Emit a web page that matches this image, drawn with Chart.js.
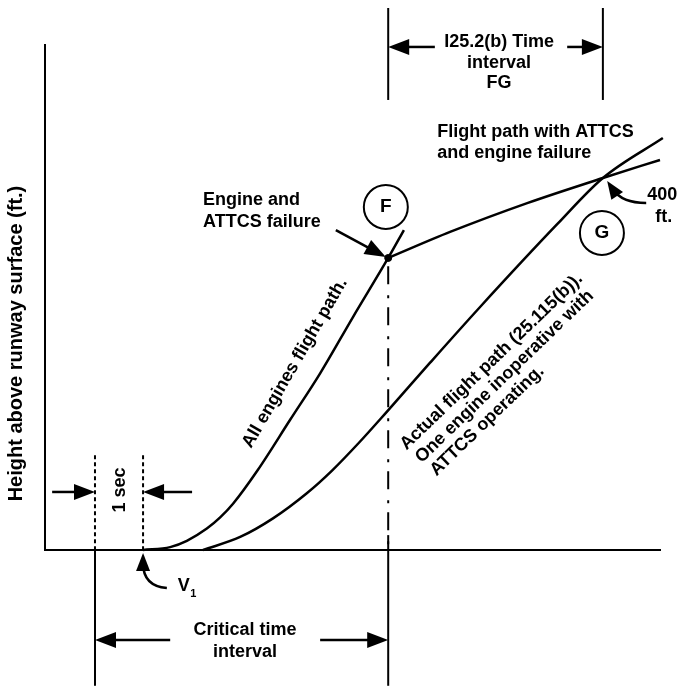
<!DOCTYPE html>
<html>
<head>
<meta charset="utf-8">
<script src="https://cdn.jsdelivr.net/npm/chart.js@4.4.1/dist/chart.umd.min.js"></script>
<style>
  html, body { margin: 0; padding: 0; background: #fff; }
  canvas { display: block; }
</style>
</head>
<body>
<canvas id="chart" width="677" height="687"></canvas>
<script>
// x = time (s), y = height above runway (ft)
const allEnginesTime   = [2.06, 2.63, 2.98, 3.40, 3.68, 3.95, 4.47, 5.15, 5.78, 6.47, 7.21, 7.54];
const allEnginesHeight = [0, 3.1, 9.8, 23, 35, 49.7, 86, 140, 190, 250.5, 314, 344];

const actualPathTime   = [3.32, 4.10, 4.79, 5.50, 6.03, 6.60, 7.18, 8.09, 9.14, 10.76, 11.72, 12.98];
const actualPathHeight = [0, 14, 34, 61, 85.4, 115.6, 148.6, 201.4, 261.3, 350.3, 400, 443];

const failurePathTime   = [7.21, 8.51, 10.13, 11.72, 12.92];
const failurePathHeight = [314, 342, 373, 400, 419.4];

// marked instants: start of 1 sec, V1, F, G
const markTimes   = [1.05, 2.06, 7.21, 11.72];
const markLabels  = ['', 'V1', 'F', 'G'];
const failureHeight = 314;
const gHeight = 400;

const timeMax = 12.92;
const heightMax = 543;

const toPoints = (xs, ys) => xs.map((x, i) => ({ x: x, y: ys[i] }));

const FONT = '"Liberation Sans", Arial, Helvetica, sans-serif';

function arrow(ctx, x1, y1, x2, y2) {
  const a = Math.atan2(y2 - y1, x2 - x1);
  const hl = 21, hw = 8;
  ctx.beginPath();
  ctx.moveTo(x1, y1);
  ctx.lineTo(x2 - hl * 0.8 * Math.cos(a), y2 - hl * 0.8 * Math.sin(a));
  ctx.stroke();
  head(ctx, x2, y2, a, hl, hw);
}

function head(ctx, x, y, a, hl, hw) {
  ctx.beginPath();
  ctx.moveTo(x, y);
  ctx.lineTo(x - hl * Math.cos(a) + hw * Math.sin(a), y - hl * Math.sin(a) - hw * Math.cos(a));
  ctx.lineTo(x - hl * Math.cos(a) - hw * Math.sin(a), y - hl * Math.sin(a) + hw * Math.cos(a));
  ctx.closePath();
  ctx.fill();
}

function curvedArrow(ctx, x1, y1, cx, cy, x2, y2) {
  const a = Math.atan2(y2 - cy, x2 - cx);
  ctx.beginPath();
  ctx.moveTo(x1, y1);
  ctx.quadraticCurveTo(cx, cy, x2 - 10 * Math.cos(a), y2 - 10 * Math.sin(a));
  ctx.stroke();
  head(ctx, x2, y2, a, 18, 7);
}

function vline(ctx, x, y1, y2, dash) {
  ctx.save();
  ctx.setLineDash(dash || []);
  ctx.beginPath();
  ctx.moveTo(x, y1);
  ctx.lineTo(x, y2);
  ctx.stroke();
  ctx.restore();
}

function label(ctx, str, x, y, align, size, angle) {
  ctx.save();
  ctx.translate(x, y);
  if (angle) ctx.rotate(angle * Math.PI / 180);
  ctx.font = 'bold ' + (size || 18) + 'px ' + FONT;
  ctx.textAlign = align || 'center';
  ctx.textBaseline = 'middle';
  ctx.fillText(str, 0, 0);
  ctx.restore();
}

const diagram = {
  id: 'diagram',
  afterDraw(chart) {
    const ctx = chart.ctx;
    const X = v => chart.scales.x.getPixelForValue(v);
    const Y = v => chart.scales.y.getPixelForValue(v);
    const [tStart, tV1, tF, tG] = markTimes;

    ctx.save();
    ctx.strokeStyle = '#000';
    ctx.fillStyle = '#000';
    ctx.lineWidth = 2;

    // 1 sec interval
    vline(ctx, X(tStart), Y(102), Y(0), [4, 3]);
    vline(ctx, X(tV1), Y(102), Y(0), [4, 3]);
    ctx.lineWidth = 2.5;
    arrow(ctx, X(0.15), Y(62.4), X(tStart), Y(62.4));
    arrow(ctx, X(3.09), Y(62.4), X(tV1), Y(62.4));
    label(ctx, '1 sec', X(1.58), Y(64.5), 'center', 18, -90);

    // critical time interval
    ctx.lineWidth = 2;
    vline(ctx, X(tStart), Y(0), Y(-146));
    vline(ctx, X(tF), Y(16), Y(-146));
    vline(ctx, X(tF), Y(failureHeight - 9), Y(0), [18, 11, 3, 9]);
    ctx.lineWidth = 2.5;
    arrow(ctx, X(2.63), Y(-96.8), X(tStart), Y(-96.8));
    arrow(ctx, X(5.78), Y(-96.8), X(tF), Y(-96.8));
    label(ctx, 'Critical time', X(4.2), Y(-86));
    label(ctx, 'interval', X(4.2), Y(-109.7));

    // V1
    ctx.lineWidth = 2.5;
    curvedArrow(ctx, X(2.56), Y(-40.9), X(2.06), Y(-38.7), X(tV1), Y(-3.2));
    label(ctx, 'V', X(2.79), Y(-38.7), 'left', 18);
    label(ctx, '1', X(3.05), Y(-47), 'left', 11);

    // FG interval
    ctx.lineWidth = 2;
    vline(ctx, X(tF), Y(582.8), Y(483.9));
    vline(ctx, X(tG), Y(582.8), Y(483.9));
    ctx.lineWidth = 2.5;
    arrow(ctx, X(8.19), Y(540.9), X(tF), Y(540.9));
    arrow(ctx, X(10.97), Y(540.9), X(tG), Y(540.9));
    label(ctx, 'I25.2(b) Time', X(9.54), Y(546));
    label(ctx, 'interval', X(9.54), Y(523.7));
    label(ctx, 'FG', X(9.54), Y(502.2));

    // point circles
    ctx.lineWidth = 2;
    [[markLabels[2], 7.16, 368.8], [markLabels[3], 11.70, 340.9]].forEach(([t, x, y]) => {
      ctx.beginPath();
      ctx.arc(X(x), Y(y), 22, 0, Math.PI * 2);
      ctx.stroke();
      label(ctx, t, X(x), Y(y), 'center', 19);
    });

    // engine failure callout
    ctx.lineWidth = 2.5;
    arrow(ctx, X(6.11), Y(344), X(7.16), Y(315));
    label(ctx, 'Engine and', X(3.32), Y(376.3), 'left');
    label(ctx, 'ATTCS failure', X(3.32), Y(352.7), 'left');

    // ATTCS failure path
    label(ctx, 'Flight path with ATTCS', X(8.24), Y(449.5), 'left');
    label(ctx, 'and engine failure', X(8.24), Y(426.9), 'left');

    // 400 ft
    curvedArrow(ctx, X(12.63), Y(373.1), X(12.12), Y(373.1), X(11.81), Y(396.8));
    label(ctx, '400', X(12.65), Y(381.7), 'left');
    label(ctx, 'ft.', X(12.82), Y(358), 'left');

    // curve labels
    label(ctx, 'All engines flight path.', X(5.25), Y(201), 'center', 18, -60);
    label(ctx, 'Actual flight path (25.115(b)).', X(7.52), Y(110.8), 'left', 18, -44);
    label(ctx, 'One engine inoperative with', X(7.84), Y(96.8), 'left', 18, -44);
    label(ctx, 'ATTCS operating.', X(8.15), Y(82.8), 'left', 18, -44);

    // axis title
    label(ctx, 'Height above runway surface (ft.)', X(-0.59), Y(222), 'center', 20, -90);

    ctx.restore();
  }
};

const curveStyle = {
  showLine: true,
  borderColor: '#000',
  borderWidth: 2.5,
  pointRadius: 0,
  pointHoverRadius: 0,
  fill: false,
  cubicInterpolationMode: 'monotone',
  clip: false
};

new Chart(document.getElementById('chart').getContext('2d'), {
  type: 'scatter',
  data: {
    datasets: [
      Object.assign({ label: 'All engines', data: toPoints(allEnginesTime, allEnginesHeight) }, curveStyle),
      Object.assign({ label: 'Actual', data: toPoints(actualPathTime, actualPathHeight) }, curveStyle),
      Object.assign({ label: 'ATTCS failure', data: toPoints(failurePathTime, failurePathHeight) }, curveStyle),
      {
        label: 'F',
        data: [{ x: markTimes[2], y: failureHeight }],
        showLine: false,
        pointRadius: 3.5,
        pointBackgroundColor: '#000',
        pointBorderColor: '#000',
        clip: false
      }
    ]
  },
  options: {
    responsive: false,
    animation: false,
    events: [],
    layout: { padding: { left: 45, right: 17, top: 45, bottom: 137 } },
    plugins: { legend: { display: false }, tooltip: { enabled: false } },
    scales: {
      x: {
        type: 'linear',
        min: 0,
        max: timeMax,
        grid: { display: false, drawTicks: false },
        ticks: { display: false },
        border: { display: true, color: '#000', width: 2 }
      },
      y: {
        type: 'linear',
        min: 0,
        max: heightMax,
        grid: { display: false, drawTicks: false },
        ticks: { display: false },
        border: { display: true, color: '#000', width: 2 }
      }
    }
  },
  plugins: [diagram]
});
</script>
</body>
</html>
